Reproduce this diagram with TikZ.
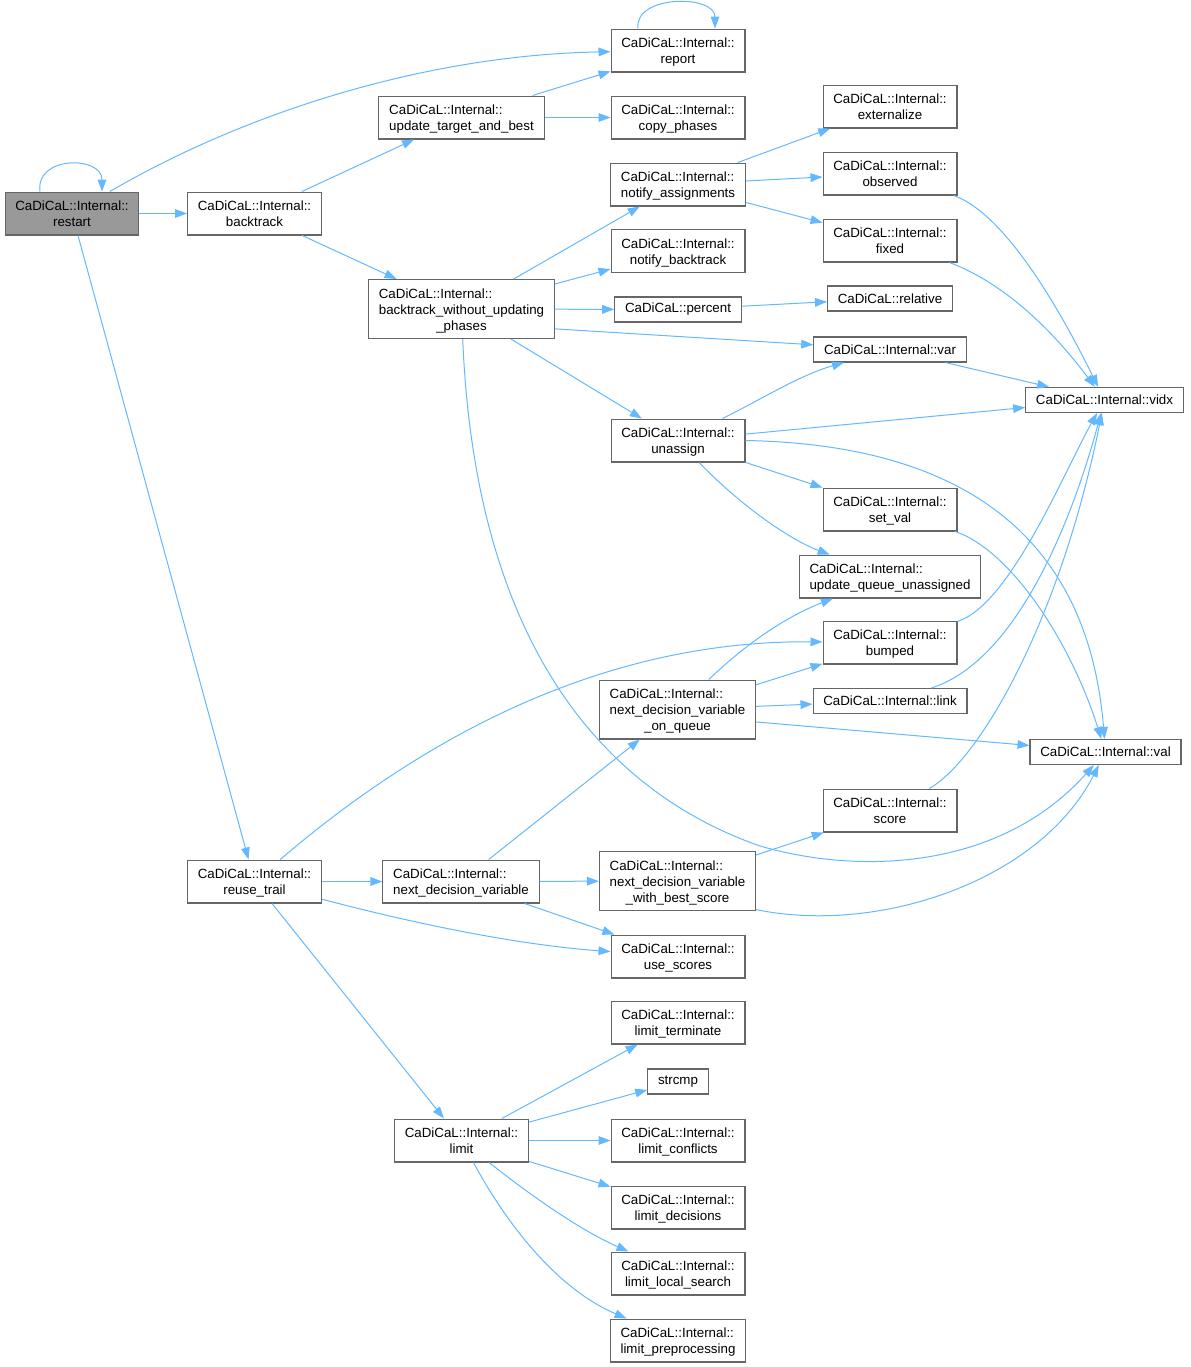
\documentclass[tikz,border=0pt]{standalone}
\usepackage{fontspec}
\setmainfont{Liberation Sans}
\usetikzlibrary{arrows.meta}
\definecolor{calledge}{HTML}{63B8FF}
\definecolor{boxline}{HTML}{666666}
\definecolor{curfill}{HTML}{999999}
\newcommand{\fname}[2]{\raisebox{-1.5pt}[\height][\depth]{\begin{tabular}{@{}l@{}}#1\\\multicolumn{1}{@{}c@{}}{#2}\end{tabular}}}

\begin{document}
\begin{tikzpicture}[x=0.75pt, y=-0.75pt,
    fnbox/.style={draw=boxline, line width=0.8pt, fill=white, font=\fontsize{10}{12}\selectfont,
        inner xsep=7.7pt, inner ysep=4.1pt, minimum height=18.75pt},
    curbox/.style={fnbox, fill=curfill},
    calls/.style={draw=calledge, line width=0.75pt, -{Triangle[length=9pt,width=6.5pt]}}]
    \useasboundingbox (0,0) rectangle (1190,1367);

    % functions
    \node[curbox] (restart) at (72,213.5) {\fname{CaDiCaL::Internal::}{restart}};
    \node[fnbox] (backtrack) at (254.5,213.5) {\fname{CaDiCaL::Internal::}{backtrack}};
    \node[fnbox] (utab) at (461.5,117.5) {\fname{CaDiCaL::Internal::}{update\_target\_and\_best}};
    \node[fnbox] (report) at (678,50.5) {\fname{CaDiCaL::Internal::}{report}};
    \node[fnbox] (copyph) at (678,117.5) {\fname{CaDiCaL::Internal::}{copy\_phases}};
    \node[fnbox] (extern) at (890,106.5) {\fname{CaDiCaL::Internal::}{externalize}};
    \node[fnbox] (notifyas) at (678,184.5) {\fname{CaDiCaL::Internal::}{notify\_assignments}};
    \node[fnbox] (observed) at (890,173.5) {\fname{CaDiCaL::Internal::}{observed}};
    \node[fnbox] (fixed) at (890,240.5) {\fname{CaDiCaL::Internal::}{fixed}};
    \node[fnbox] (notifybt) at (678,251) {\fname{CaDiCaL::Internal::}{notify\_backtrack}};
    \node[fnbox] (bwup) at (461.5,309) {\fname{CaDiCaL::Internal::\\backtrack\_without\_updating}{\_phases}};
    \node[fnbox] (percent) at (678,309.5) {CaDiCaL::percent};
    \node[fnbox] (relative) at (890,298.5) {CaDiCaL::relative};
    \node[fnbox] (var) at (890,349.5) {CaDiCaL::Internal::var};
    \node[fnbox] (vidx) at (1104.5,400) {CaDiCaL::Internal::vidx};
    \node[fnbox] (unassign) at (678,440.5) {\fname{CaDiCaL::Internal::}{unassign}};
    \node[fnbox] (setval) at (890,509.5) {\fname{CaDiCaL::Internal::}{set\_val}};
    \node[fnbox] (uqu) at (890,576.5) {\fname{CaDiCaL::Internal::}{update\_queue\_unassigned}};
    \node[fnbox] (bumped) at (890,642.5) {\fname{CaDiCaL::Internal::}{bumped}};
    \node[fnbox] (link) at (890,701) {CaDiCaL::Internal::link};
    \node[fnbox] (ndvoq) at (677.5,709.5) {\fname{CaDiCaL::Internal::\\next\_decision\_variable}{\_on\_queue}};
    \node[fnbox] (val) at (1105.5,752) {CaDiCaL::Internal::val};
    \node[fnbox] (score) at (890,810.5) {\fname{CaDiCaL::Internal::}{score}};
    \node[fnbox] (reuse) at (254.5,881.5) {\fname{CaDiCaL::Internal::}{reuse\_trail}};
    \node[fnbox] (ndv) at (461,881.5) {\fname{CaDiCaL::Internal::}{next\_decision\_variable}};
    \node[fnbox] (ndvbs) at (677.5,881) {\fname{CaDiCaL::Internal::\\next\_decision\_variable}{\_with\_best\_score}};
    \node[fnbox] (usesc) at (678,956.5) {\fname{CaDiCaL::Internal::}{use\_scores}};
    \node[fnbox] (limterm) at (678,1022.5) {\fname{CaDiCaL::Internal::}{limit\_terminate}};
    \node[fnbox] (strcmp) at (678,1081.5) {strcmp};
    \node[fnbox] (limit) at (461.5,1140.5) {\fname{CaDiCaL::Internal::}{limit}};
    \node[fnbox] (limconf) at (678,1140.5) {\fname{CaDiCaL::Internal::}{limit\_conflicts}};
    \node[fnbox] (limdec) at (678,1207.5) {\fname{CaDiCaL::Internal::}{limit\_decisions}};
    \node[fnbox] (limls) at (678,1273.5) {\fname{CaDiCaL::Internal::}{limit\_local\_search}};
    \node[fnbox] (limpre) at (678,1340.5) {\fname{CaDiCaL::Internal::}{limit\_preprocessing}};

    % calls
    \draw[calls] ([xshift=-24pt]restart.north) .. controls +(-5,-36) and +(0,-36) .. ([xshift=22.5pt]restart.north);
    \draw[calls] (restart) .. controls (250,110) and (430,55) .. (report);
    \draw[calls] (restart) -- (backtrack);
    \draw[calls] (restart) -- (reuse);
    \draw[calls] (backtrack) -- (utab);
    \draw[calls] (backtrack) -- (bwup);
    \draw[calls] (utab) -- (report);
    \draw[calls] (utab) -- (copyph);
    \draw[calls] ([xshift=-30pt]report.north) .. controls +(-4,-34) and +(0,-34) .. ([xshift=27.75pt]report.north);
    \draw[calls] (bwup) -- (notifyas);
    \draw[calls] (bwup) -- (notifybt);
    \draw[calls] (bwup) -- (percent);
    \draw[calls] (bwup.-12) -- (var);
    \draw[calls] (bwup) -- (unassign);
    \draw[calls] (bwup) .. controls (475,640) and (600,790) .. (760,846)
        .. controls (860,875) and (1000,870) .. (val);
    \draw[calls] (notifyas) -- (extern);
    \draw[calls] (notifyas) -- (observed);
    \draw[calls] (notifyas) -- (fixed);
    \draw[calls] (observed) .. controls (1010,215) and (1070,330) .. (vidx);
    \draw[calls] (fixed) .. controls (1010,285) and (1060,340) .. (vidx);
    \draw[calls] (percent) -- (relative);
    \draw[calls] (var) -- (vidx);
    \draw[calls] (unassign) .. controls (760,400) and (800,375) .. (var);
    \draw[calls] (unassign) -- (vidx);
    \draw[calls] (unassign.east) .. controls (990,445) and (1090,560) .. (val);
    \draw[calls] (unassign) -- (setval);
    \draw[calls] (unassign) .. controls (740,505) and (790,540) .. (uqu);
    \draw[calls] (setval) .. controls (1010,550) and (1070,640) .. (val);
    \draw[calls] (bumped) .. controls (1010,605) and (1065,470) .. (vidx);
    \draw[calls] (link) .. controls (1020,660) and (1075,510) .. (vidx);
    \draw[calls] (score) .. controls (980,760) and (1060,620) .. (vidx);
    \draw[calls] (ndvoq) .. controls (750,640) and (790,615) .. (uqu);
    \draw[calls] (ndvoq) -- (bumped);
    \draw[calls] (ndvoq) -- (link);
    \draw[calls] (ndvoq.-9) -- (val);
    \draw[calls] (reuse) .. controls (420,740) and (600,640) .. (bumped);
    \draw[calls] (reuse) -- (ndv);
    \draw[calls] (reuse) .. controls (420,925) and (520,945) .. (usesc);
    \draw[calls] (reuse) -- (limit);
    \draw[calls] (ndv) -- (ndvoq);
    \draw[calls] (ndv) -- (ndvbs);
    \draw[calls] (ndv) -- (usesc);
    \draw[calls] (ndvbs) -- (score);
    \draw[calls] (ndvbs.-20) .. controls (880,935) and (1040,880) .. (val);
    \draw[calls] (limit) -- (limterm);
    \draw[calls] (limit) -- (strcmp);
    \draw[calls] (limit) -- (limconf);
    \draw[calls] (limit) -- (limdec);
    \draw[calls] (limit) .. controls (530,1195) and (580,1230) .. (limls);
    \draw[calls] (limit) .. controls (510,1230) and (560,1290) .. (limpre);
\end{tikzpicture}
\end{document}
